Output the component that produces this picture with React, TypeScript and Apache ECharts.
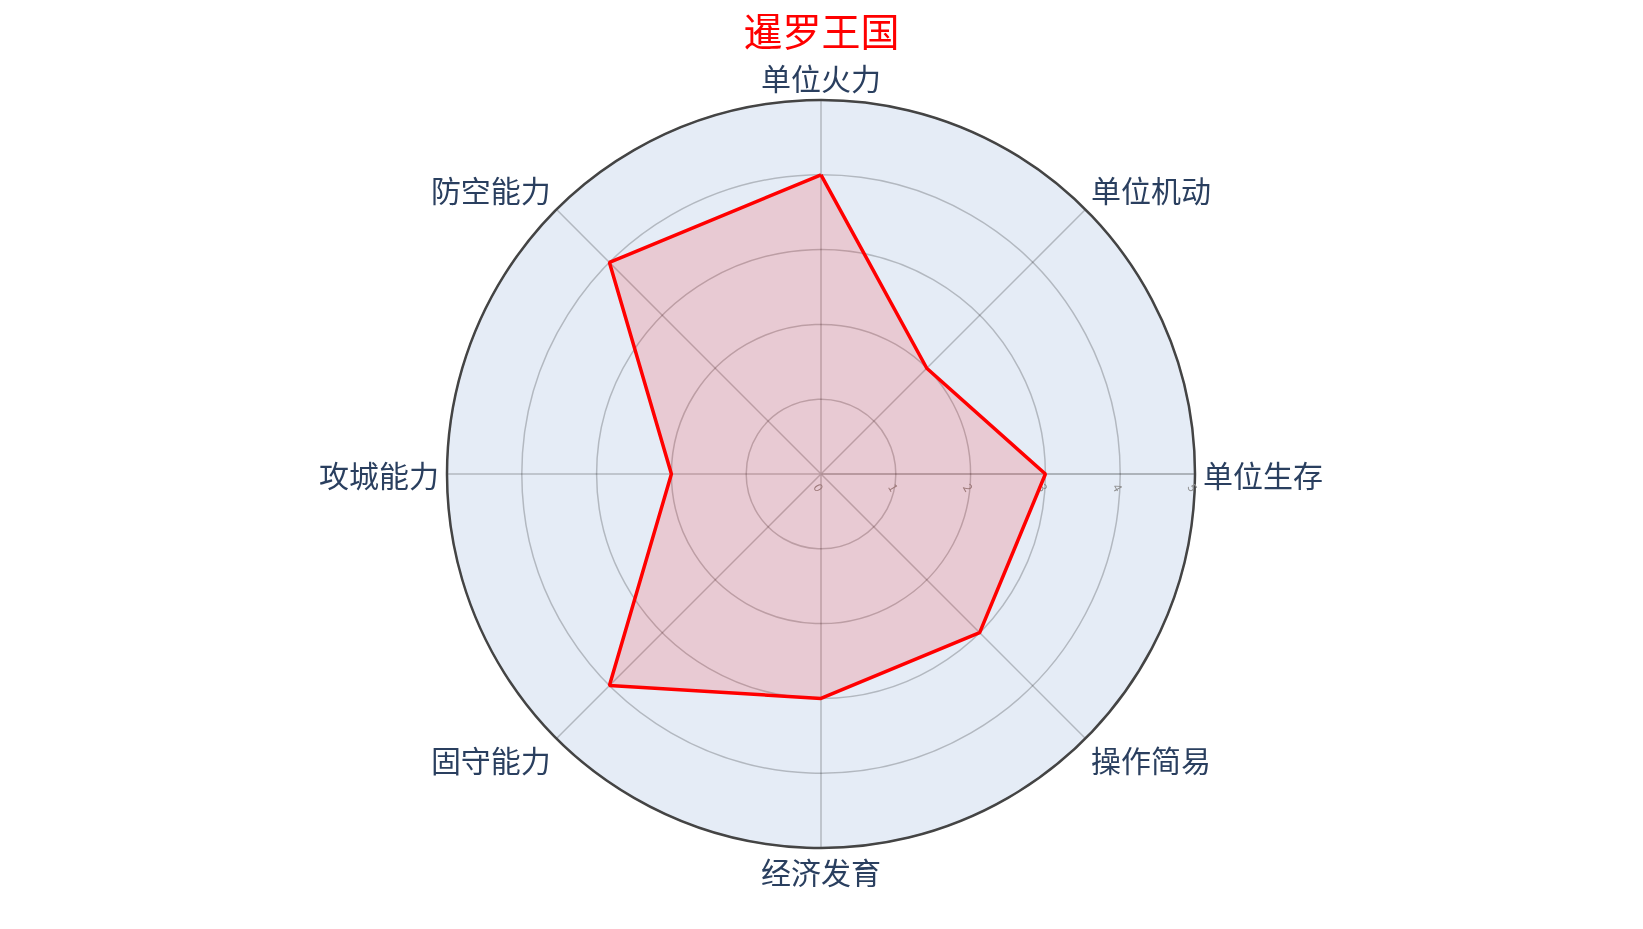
import { useEffect, useRef } from 'react';
import * as echarts from 'echarts';

const categories = ['单位火力', '单位机动', '单位生存', '操作简易', '经济发育', '固守能力', '攻城能力', '防空能力'];
const scores = [4, 2, 3, 3, 3, 4, 2, 4];
const radialTicks = [0, 1, 2, 3, 4, 5];

const FONT = '"Noto Sans CJK SC", "Open Sans", sans-serif';
const GRID = 'rgba(0,0,0,0.22)';
const CENTER = [821, 474];
const RADIUS = 374;

export default function App() {
  const ref = useRef<HTMLDivElement>(null);

  useEffect(() => {
    if (!ref.current) return;
    const chart = echarts.init(ref.current, undefined, { renderer: 'svg' });

    const step = 360 / categories.length;
    const points = scores.map((v, i) => [v, i * step]);
    points.push([scores[0], 360]);
    const rMax = radialTicks[radialTicks.length - 1];

    chart.setOption({
      animation: false,
      textStyle: { fontFamily: FONT },
      title: {
        text: '暹罗王国',
        left: 'center',
        top: 9,
        padding: 0,
        textStyle: { color: '#ff0000', fontSize: 39, lineHeight: 40, fontWeight: 'normal', fontFamily: FONT },
      },
      polar: [
        { center: CENTER, radius: RADIUS },
        { center: CENTER, radius: RADIUS },
      ],
      angleAxis: [
        {
          polarIndex: 0,
          type: 'value',
          min: 0,
          max: 360,
          interval: step,
          startAngle: 90,
          clockwise: true,
          z: 2,
          axisLine: { show: true, lineStyle: { color: '#444', width: 2.5 } },
          axisTick: { show: false },
          axisLabel: {
            show: true,
            margin: 8,
            fontSize: 30,
            lineHeight: 30,
            color: '#2a3f5f',
            fontFamily: FONT,
            formatter: (v: number) => (v >= 360 ? '' : categories[Math.round(v / step)]),
          },
          splitLine: { show: true, lineStyle: { color: GRID, width: 1.5 } },
          splitArea: { show: false },
        },
        {
          // background only
          polarIndex: 1,
          type: 'value',
          min: 0,
          max: 360,
          interval: step,
          startAngle: 0,
          z: 0,
          axisLine: { show: false },
          axisTick: { show: false },
          axisLabel: { show: false },
          splitLine: { show: false },
          splitArea: { show: true, areaStyle: { color: ['#e5ecf6'] } },
        },
      ],
      radiusAxis: [
        {
          polarIndex: 0,
          type: 'value',
          min: 0,
          max: rMax,
          interval: 1,
          z: 2,
          axisLine: { show: false },
          axisTick: { show: false },
          axisLabel: { show: false },
          splitLine: { show: true, lineStyle: { color: GRID, width: 1.5 } },
        },
        {
          polarIndex: 1,
          type: 'value',
          min: 0,
          max: rMax,
          interval: 1,
          z: 2,
          axisLine: { show: true, lineStyle: { color: 'rgba(0,0,0,0.12)', width: 1.5 } },
          axisTick: { show: false },
          splitLine: { show: false },
          axisLabel: {
            show: true,
            rotate: -60,
            fontSize: 12,
            color: '#8c8c8c',
            margin: -16,
            formatter: (v: number) => String(v),
          },
        },
      ],
      series: [
        {
          type: 'line',
          coordinateSystem: 'polar',
          polarIndex: 0,
          data: points,
          symbol: 'none',
          lineStyle: { color: '#ff0000', width: 3.5 },
          areaStyle: { color: 'rgba(255,0,0,0.2)', origin: 'start' },
          z: 5,
        },
      ],
    });

    return () => chart.dispose();
  }, []);

  return <div ref={ref} style={{ position: 'fixed', left: 0, top: 0, width: '100vw', height: '100vh' }} />;
}
